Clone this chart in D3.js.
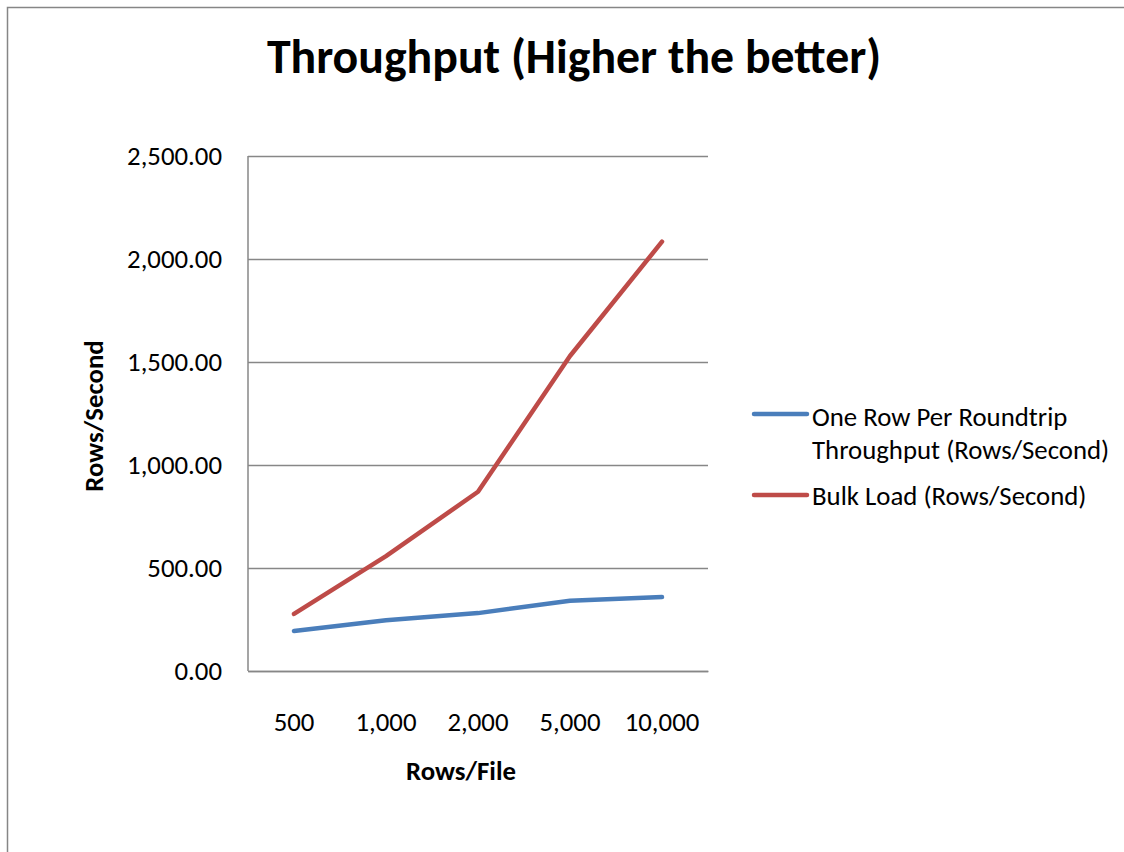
<!DOCTYPE html>
<html><head><meta charset="utf-8">
<script src="https://cdn.jsdelivr.net/npm/d3@7"></script>
<style>html,body{margin:0;padding:0;background:#fff;}svg{display:block;}</style>
</head><body>
<svg id="chart" width="1124" height="852"></svg>
<script>
const categories = ["500", "1,000", "2,000", "5,000", "10,000"];
const oneRowValues = [194, 246, 281, 341, 359];
const bulkValues = [277, 558, 870, 1529, 2084];
const yTicks = [0, 500, 1000, 1500, 2000, 2500];
const seriesNames = ["One Row Per Roundtrip Throughput (Rows/Second)", "Bulk Load (Rows/Second)"];
const seriesColors = ["#4A7EBB", "#BE4B48"];
const fontFam = "Carlito, Calibri, 'Open Sans', 'Liberation Sans', sans-serif";

(function () {
const svg = d3.select("#chart");
svg.append("rect").attr("x", 7.5).attr("y", 7.5).attr("width", 1130).attr("height", 900)
  .attr("fill", "#fff").attr("stroke", "#868686").attr("stroke-width", 1.5);

const pLeft = 248, pRight = 708, pTop = 156, pBottom = 671;
const fs = 26.8;
const x = d3.scaleBand().domain(categories).range([pLeft, pRight]);
const y = d3.scaleLinear().domain([0, 2500]).range([pBottom, pTop]);

svg.append("text").attr("x", 574).attr("y", 73).attr("text-anchor", "middle")
  .attr("font-family", fontFam).attr("font-weight", "bold").attr("font-size", 47.8)
  .text("Throughput (Higher the better)");

const yAxis = d3.axisLeft(y).tickValues(yTicks).tickSize(-(pRight - pLeft)).tickPadding(26)
  .tickFormat(d3.format(",.2f"));
const gy = svg.append("g").attr("transform", `translate(${pLeft},0)`).call(yAxis);
gy.select(".domain").remove();
gy.selectAll(".tick line").attr("stroke", "#878787").attr("stroke-width", 1.5);
gy.selectAll(".tick text").attr("font-family", fontFam).attr("font-size", fs).attr("fill", "#000");

svg.append("line").attr("x1", pLeft).attr("x2", pLeft).attr("y1", pTop).attr("y2", pBottom)
  .attr("stroke", "#878787").attr("stroke-width", 1.5);
const xAxis = d3.axisBottom(x).tickSize(0).tickPadding(41);
const gx = svg.append("g").attr("transform", `translate(0,${pBottom})`).call(xAxis);
gx.select(".domain").attr("stroke", "#878787").attr("stroke-width", 1.5);
gx.selectAll(".tick text").attr("font-family", fontFam).attr("font-size", fs).attr("fill", "#000");

svg.append("text").attr("transform", `translate(103,416) rotate(-90)`)
  .attr("text-anchor", "middle").attr("font-family", fontFam).attr("font-weight", "bold")
  .attr("font-size", fs).text("Rows/Second");
svg.append("text").attr("x", 461).attr("y", 780).attr("text-anchor", "middle")
  .attr("font-family", fontFam).attr("font-weight", "bold").attr("font-size", fs).text("Rows/File");

const line = d3.line().x((d, i) => x(categories[i]) + x.bandwidth() / 2).y(d => y(d));
[oneRowValues, bulkValues].forEach((vals, i) => {
  svg.append("path").datum(vals).attr("d", line).attr("fill", "none")
    .attr("stroke", seriesColors[i]).attr("stroke-width", 4.5)
    .attr("stroke-linejoin", "round").attr("stroke-linecap", "round");
});

const lg = svg.append("g");
const legendRows = [{y: 414, base: 426, lines: ["One Row Per Roundtrip", "Throughput (Rows/Second)"]},
                    {y: 495, base: 505, lines: ["Bulk Load (Rows/Second)"]}];
legendRows.forEach((r, i) => {
  lg.append("line").attr("x1", 754).attr("x2", 807).attr("y1", r.y).attr("y2", r.y)
    .attr("stroke", seriesColors[i]).attr("stroke-width", 4.5).attr("stroke-linecap", "round");
  const t = lg.append("text").attr("x", 812).attr("y", r.base).attr("font-family", fontFam)
    .attr("font-size", fs).attr("fill", "#000");
  r.lines.forEach((s, j) => t.append("tspan").attr("x", 812).attr("dy", j === 0 ? 0 : 33).text(s));
});
})();
</script>
</body></html>
